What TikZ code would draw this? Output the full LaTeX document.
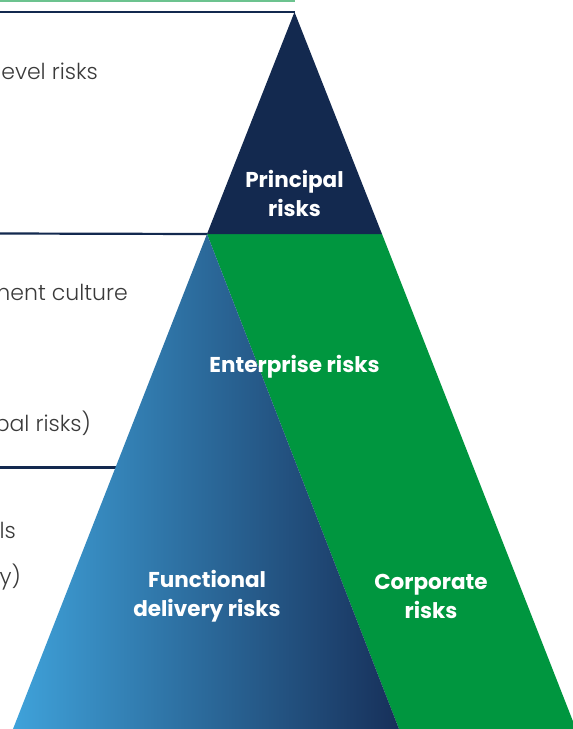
\documentclass[tikz,border=0pt]{standalone}
\usepackage{fontspec}
\setmainfont{Poppins}
\newfontfamily\lightfont{Poppins Light}
\definecolor{navy}{HTML}{13294F}
\definecolor{grn}{HTML}{00963F}
\definecolor{lgrn}{HTML}{6CC38F}
\definecolor{lblue}{HTML}{3FA2DA}
\definecolor{dblue}{HTML}{17305A}
\definecolor{txtgray}{HTML}{3A3A3A}
\tikzset{
  lbl/.style={text=white, font=\bfseries\fontsize{21.5}{29}\selectfont, align=center},
  side/.style={text=txtgray, font=\lightfont\fontsize{22}{26}\selectfont, anchor=east, inner sep=0pt},
  rule/.style={draw=navy, line width=2.2pt}
}
\begin{document}
\begin{tikzpicture}[x=1pt,y=-1pt]
\useasboundingbox (0,0) rectangle (573,729);
\clip (0,0) rectangle (573,729);
% coordinates
\coordinate (apex) at (294.5,12);
\coordinate (pl) at (207,234);
\coordinate (pr) at (382,234);
\coordinate (bl) at (13,729);
\coordinate (bm) at (399,729);
\coordinate (br) at (576,729);
% top green line
\coordinate (g0) at (0,0.8);
\coordinate (g1) at (295,0.8);
\draw[lgrn, line width=1.8pt] (g0) -- (g1);
% horizontal rules
\coordinate (r1) at (0,12);
\coordinate (r2) at (0,233.5);
\coordinate (r3) at (0,467.5);
\coordinate (r3e) at (117,467.5);
\draw[rule] (r1) -- (apex);
\draw[rule] (r2) -- (pl);
\draw[rule] (r3) -- (r3e);
% green band
\fill[grn] (pl) -- (pr) -- (br) -- (bm) -- cycle;
% blue gradient triangle
\shade[left color=lblue, right color=dblue] (pl) -- (bm) -- (bl) -- cycle;
% principal triangle
\fill[navy] (apex) -- (pr) -- (pl) -- cycle;
% labels
\node[lbl] (principal) at (294.5,193) {Principal\\risks};
\node[lbl] (enterprise) at (294.5,367) {Enterprise risks};
\node[lbl] (functional) at (207,596) {Functional\\delivery risks};
\node[lbl] (corporate) at (431,596) {Corporate\\risks};
% side texts
\node[side] (t1) at (98,71) {evel risks};
\node[side] (t2) at (128,292) {ment culture};
\node[side] (t3) at (91,424) {pal risks)};
\node[side] (t4) at (16,530) {ls};
\node[side] (t5) at (21,577) {y)};
\end{tikzpicture}
\end{document}
